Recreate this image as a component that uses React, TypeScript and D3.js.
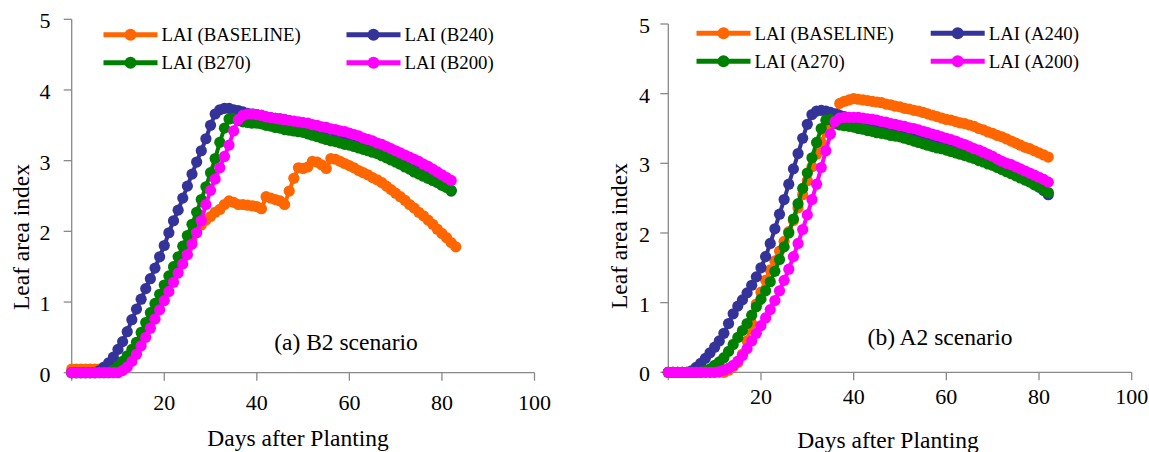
import React from 'react';
import * as d3 from 'd3';

// ---------- DATA (daily values, index = days after planting) ----------
const X_TICKS = [20, 40, 60, 80, 100];
const Y_TICKS = [0, 1, 2, 3, 4, 5];

// (a) B2 scenario
const B2_LABELS = ['LAI (BASELINE)', 'LAI (B240)', 'LAI (B270)', 'LAI (B200)'];
const B2_BASELINE = [
  0.05, 0.05, 0.05, 0.05, 0.05, 0.05, 0.05, 0.06, 0.07, 0.08,
  0.09, 0.10, 0.15, 0.22, 0.32, 0.45, 0.58, 0.72, 0.86, 0.99,
  1.12, 1.25, 1.38, 1.50, 1.62, 1.75, 1.88, 2.00, 2.09, 2.16,
  2.21, 2.27, 2.31, 2.38, 2.43, 2.41, 2.38, 2.38, 2.37, 2.36,
  2.35, 2.32, 2.49, 2.47, 2.45, 2.43, 2.38, 2.57, 2.75, 2.90,
  2.89, 2.91, 2.99, 2.98, 2.94, 2.89, 3.03, 3.02, 2.99, 2.96,
  2.93, 2.90, 2.86, 2.83, 2.80, 2.76, 2.73, 2.69, 2.64, 2.59,
  2.54, 2.49, 2.44, 2.38, 2.33, 2.27, 2.22, 2.16, 2.10, 2.03,
  1.97, 1.91, 1.84, 1.78,
];
const B2_B240 = [
  0, 0, 0, 0, 0, 0, 0.03, 0.08, 0.14, 0.22,
  0.33, 0.44, 0.58, 0.75, 0.90, 1.04, 1.19, 1.33, 1.48, 1.64,
  1.80, 1.98, 2.15, 2.30, 2.47, 2.64, 2.81, 2.98, 3.14, 3.31,
  3.50, 3.66, 3.72, 3.74, 3.74, 3.72, 3.71, 3.69, 3.67, 3.66,
  3.65, 3.64, 3.62, 3.61, 3.60, 3.59, 3.58, 3.56, 3.55, 3.54,
  3.53, 3.51, 3.50, 3.48, 3.46, 3.45, 3.43, 3.41, 3.39, 3.37,
  3.36, 3.34, 3.32, 3.30, 3.27, 3.25, 3.22, 3.20, 3.17, 3.15,
  3.12, 3.09, 3.06, 3.03, 3.00, 2.96, 2.92, 2.88, 2.83, 2.78,
  2.72, 2.65, 2.57,
];
const B2_B270 = [
  0, 0, 0, 0, 0, 0, 0, 0, 0, 0.04,
  0.09, 0.16, 0.24, 0.33, 0.43, 0.57, 0.71, 0.85, 0.98, 1.11,
  1.24, 1.37, 1.50, 1.64, 1.79, 1.94, 2.10, 2.27, 2.45, 2.63,
  2.83, 3.03, 3.26, 3.46, 3.59, 3.60, 3.57, 3.55, 3.54, 3.53,
  3.53, 3.52, 3.50, 3.49, 3.47, 3.46, 3.44, 3.43, 3.42, 3.41,
  3.40, 3.38, 3.36, 3.34, 3.32, 3.30, 3.28, 3.27, 3.25, 3.23,
  3.22, 3.20, 3.18, 3.16, 3.14, 3.12, 3.10, 3.07, 3.04, 3.01,
  2.98, 2.95, 2.91, 2.88, 2.84, 2.81, 2.78, 2.75, 2.72, 2.69,
  2.65, 2.62, 2.58,
];
const B2_B200 = [
  0, 0, 0, 0, 0, 0, 0, 0, 0, 0,
  0, 0.03, 0.08, 0.16, 0.26, 0.38, 0.50, 0.63, 0.76, 0.89,
  1.02, 1.15, 1.28, 1.41, 1.54, 1.67, 1.82, 1.98, 2.15, 2.38,
  2.58, 2.74, 2.90, 3.06, 3.22, 3.42, 3.58, 3.64, 3.66, 3.66,
  3.65, 3.64, 3.62, 3.61, 3.60, 3.59, 3.58, 3.57, 3.56, 3.55,
  3.54, 3.53, 3.51, 3.50, 3.48, 3.47, 3.45, 3.44, 3.42, 3.41,
  3.39, 3.37, 3.35, 3.32, 3.30, 3.28, 3.25, 3.23, 3.20, 3.17,
  3.14, 3.11, 3.08, 3.05, 3.02, 2.99, 2.95, 2.92, 2.88, 2.84,
  2.80, 2.76, 2.72,
];

// (b) A2 scenario
const A2_LABELS = ['LAI (BASELINE)', 'LAI (A240)', 'LAI (A270)', 'LAI (A200)'];
const A2_BASELINE = [
  0, 0, 0, 0, 0, 0, 0, 0, 0, 0,
  0, 0, 0, 0.03, 0.08, 0.14, 0.26, 0.45, 0.70, 0.98,
  1.15, 1.32, 1.47, 1.60, 1.74, 1.88, 2.02, 2.18, 2.36, 2.55,
  2.75, 2.95, 3.13, 3.30, 3.45, 3.56, 3.62, 3.86, 3.89, 3.91,
  3.93, 3.92, 3.91, 3.90, 3.89, 3.88, 3.87, 3.85, 3.84, 3.82,
  3.81, 3.79, 3.78, 3.76, 3.75, 3.73, 3.71, 3.69, 3.67, 3.65,
  3.63, 3.62, 3.60, 3.58, 3.57, 3.55, 3.53, 3.50, 3.48, 3.45,
  3.43, 3.40, 3.38, 3.35, 3.32, 3.29, 3.26, 3.23, 3.21, 3.18,
  3.15, 3.12, 3.09,
];
const A2_A240 = [
  0, 0, 0, 0, 0, 0.02, 0.07, 0.13, 0.20, 0.28,
  0.36, 0.45, 0.56, 0.70, 0.84, 0.95, 1.04, 1.14, 1.25, 1.37,
  1.50, 1.66, 1.85, 2.06, 2.27, 2.48, 2.70, 2.92, 3.14, 3.36,
  3.56, 3.70, 3.75, 3.76, 3.75, 3.73, 3.71, 3.69, 3.67, 3.65,
  3.64, 3.63, 3.62, 3.61, 3.60, 3.58, 3.57, 3.55, 3.54, 3.52,
  3.51, 3.49, 3.47, 3.45, 3.43, 3.41, 3.39, 3.37, 3.35, 3.33,
  3.31, 3.29, 3.27, 3.24, 3.22, 3.19, 3.17, 3.14, 3.11, 3.08,
  3.05, 3.02, 2.99, 2.96, 2.92, 2.89, 2.85, 2.81, 2.76, 2.71,
  2.66, 2.61, 2.55,
];
const A2_A270 = [
  0, 0, 0, 0, 0, 0, 0, 0, 0.02, 0.05,
  0.10, 0.15, 0.21, 0.30, 0.40, 0.50, 0.60, 0.70, 0.82, 0.94,
  1.05, 1.17, 1.30, 1.45, 1.62, 1.80, 2.00, 2.20, 2.42, 2.64,
  2.86, 3.08, 3.30, 3.50, 3.62, 3.63, 3.57, 3.55, 3.54, 3.53,
  3.52, 3.50, 3.49, 3.47, 3.46, 3.44, 3.43, 3.42, 3.40, 3.39,
  3.38, 3.36, 3.34, 3.32, 3.30, 3.28, 3.26, 3.24, 3.22, 3.21,
  3.19, 3.17, 3.15, 3.13, 3.11, 3.09, 3.07, 3.04, 3.02, 2.99,
  2.97, 2.94, 2.91, 2.88, 2.85, 2.82, 2.79, 2.76, 2.73, 2.69,
  2.66, 2.62, 2.58,
];
const A2_A200 = [
  0, 0, 0, 0, 0, 0, 0, 0, 0, 0,
  0, 0.01, 0.03, 0.06, 0.10, 0.16, 0.24, 0.34, 0.45, 0.56,
  0.67, 0.78, 0.90, 1.03, 1.17, 1.32, 1.48, 1.66, 1.85, 2.05,
  2.26, 2.48, 2.70, 2.94, 3.18, 3.42, 3.60, 3.65, 3.66, 3.66,
  3.66, 3.66, 3.65, 3.64, 3.63, 3.62, 3.60, 3.59, 3.57, 3.56,
  3.54, 3.53, 3.51, 3.50, 3.48, 3.46, 3.44, 3.42, 3.40, 3.38,
  3.36, 3.34, 3.32, 3.29, 3.27, 3.24, 3.21, 3.19, 3.16, 3.13,
  3.10, 3.06, 3.03, 3.00, 2.98, 2.95, 2.92, 2.89, 2.86, 2.83,
  2.80, 2.77, 2.73,
];

const SERIES_COLORS = ['#FF6600', '#333399', '#008000', '#FF00FF'];
const X_TITLE = 'Days after Planting';
const Y_TITLE = 'Leaf area index';

// ---------- LAYOUT ----------
const FONT = "'Liberation Serif', 'Times New Roman', serif";
const AXIS_COLOR = '#898989';

type PanelCfg = {
  series: number[][];
  labels: string[];
  annotation: string;
  x0: number; x1: number; yTop: number; yBot: number;
  annX: number; annY: number;
  legCol: [number, number]; legRow: [number, number];
  yTitleX: number; yTitleY: number;
  xTitleX: number; xTitleY: number;
  xLabelY: number; yLabelX: number;
};

const PANELS: PanelCfg[] = [
  {
    series: [B2_BASELINE, B2_B240, B2_B270, B2_B200],
    labels: B2_LABELS,
    annotation: '(a) B2 scenario',
    x0: 71.7, x1: 534.5, yTop: 19.3, yBot: 372.7,
    annX: 346, annY: 350,
    legCol: [103.5, 346.5], legRow: [34.8, 62.8],
    yTitleX: 28.5, yTitleY: 237,
    xTitleX: 298, xTitleY: 446,
    xLabelY: 410, yLabelX: 50.5,
  },
  {
    series: [A2_BASELINE, A2_A240, A2_A270, A2_A200],
    labels: A2_LABELS,
    annotation: '(b) A2 scenario',
    x0: 668.3, x1: 1131.7, yTop: 24, yBot: 372.3,
    annX: 940, annY: 345,
    legCol: [696.5, 930.7], legRow: [33.3, 61.3],
    yTitleX: 626.5, yTitleY: 236,
    xTitleX: 888, xTitleY: 448,
    xLabelY: 404, yLabelX: 650,
  },
];

function Panel({ cfg }: { cfg: PanelCfg }) {
  const x = d3.scaleLinear().domain([0, 100]).range([cfg.x0, cfg.x1]);
  const y = d3.scaleLinear().domain([0, 5]).range([cfg.yBot, cfg.yTop]);
  const line = d3
    .line<number>()
    .x((_, i) => x(i))
    .y((v) => y(v));

  const legendSlots = [
    [0, 0],
    [1, 0],
    [0, 1],
    [1, 1],
  ];

  return (
    <g>
      {/* axes */}
      <line x1={x(0)} x2={x(0)} y1={y(5)} y2={y(0)} stroke={AXIS_COLOR} strokeWidth={1.3} />
      <line x1={x(0)} x2={x(100)} y1={y(0)} y2={y(0)} stroke={AXIS_COLOR} strokeWidth={1.3} />
      {Y_TICKS.map((t) => (
        <g key={'yt' + t}>
          <line x1={x(0) - 8} x2={x(0)} y1={y(t)} y2={y(t)} stroke={AXIS_COLOR} strokeWidth={1.3} />
          <text x={cfg.yLabelX} y={y(t) + 9} textAnchor="end" fontSize={22} fontFamily={FONT} fill="#000">
            {t}
          </text>
        </g>
      ))}
      {[0, ...X_TICKS].map((t) => (
        <line key={'xt' + t} x1={x(t)} x2={x(t)} y1={y(0)} y2={y(0) + 8} stroke={AXIS_COLOR} strokeWidth={1.3} />
      ))}
      {X_TICKS.map((t) => (
        <text key={'xl' + t} x={x(t)} y={cfg.xLabelY} textAnchor="middle" fontSize={22} fontFamily={FONT} fill="#000">
          {t}
        </text>
      ))}

      {/* series */}
      {cfg.series.map((s, si) => (
        <g key={'s' + si}>
          <path d={line(s) || ''} fill="none" stroke={SERIES_COLORS[si]} strokeWidth={4} />
          {s.map((v, i) => (
            <circle key={i} cx={x(i)} cy={y(v)} r={5.6} fill={SERIES_COLORS[si]} />
          ))}
        </g>
      ))}

      {/* legend */}
      {cfg.labels.map((lab, i) => {
        const [c, r] = legendSlots[i];
        const lx = cfg.legCol[c];
        const ly = cfg.legRow[r];
        return (
          <g key={'lg' + i}>
            <line x1={lx} x2={lx + 54} y1={ly} y2={ly} stroke={SERIES_COLORS[i]} strokeWidth={5} />
            <circle cx={lx + 27} cy={ly} r={6} fill={SERIES_COLORS[i]} />
            <text x={lx + 58} y={ly + 6.5} fontSize={18.8} fontFamily={FONT} fill="#000">
              {lab}
            </text>
          </g>
        );
      })}

      {/* annotation */}
      <text x={cfg.annX} y={cfg.annY} textAnchor="middle" fontSize={23.5} fontFamily={FONT} fill="#000">
        {cfg.annotation}
      </text>

      {/* axis titles */}
      <text x={cfg.xTitleX} y={cfg.xTitleY} textAnchor="middle" fontSize={23.5} fontFamily={FONT} fill="#000">
        {X_TITLE}
      </text>
      <text
        transform={`translate(${cfg.yTitleX},${cfg.yTitleY}) rotate(-90)`}
        textAnchor="middle"
        fontSize={23.5}
        fontFamily={FONT}
        fill="#000"
      >
        {Y_TITLE}
      </text>
    </g>
  );
}

export default function App() {
  return (
    <svg
      width={1149}
      height={452}
      viewBox="0 0 1149 452"
      style={{ position: 'absolute', left: 0, top: 0, display: 'block', background: '#fff' }}
    >
      <rect x={0} y={0} width={1149} height={452} fill="#fff" />
      {PANELS.map((p, i) => (
        <Panel key={i} cfg={p} />
      ))}
    </svg>
  );
}
